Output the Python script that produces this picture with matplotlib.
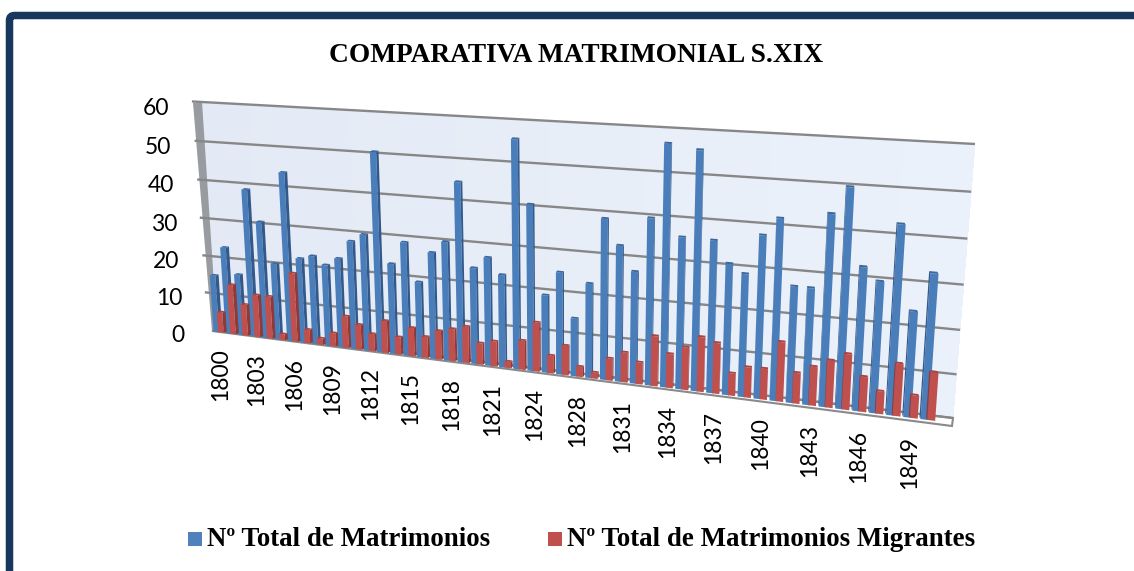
import numpy as np
import matplotlib
matplotlib.use("Agg")
import matplotlib.pyplot as plt
from matplotlib.patches import Polygon, Rectangle, FancyBboxPatch
from matplotlib.transforms import Transform
from matplotlib.colors import LinearSegmentedColormap

# ---------- data ----------
years = list(range(1800, 1825)) + list(range(1826, 1851))
total = [15.2, 22.9, 16.1, 38.5, 30.5, 20.0, 43.6, 22.0, 23.0, 21.0,
         23.0, 27.7, 29.7, 50.4, 23.0, 28.7, 19.1, 26.8, 29.8, 44.6,
         24.0, 26.9, 23.0, 55.7, 40.6, 19.1, 25.0, 14.2, 23.0, 38.7,
         32.7, 26.9, 39.7, 56.9, 35.9, 55.9, 35.8, 30.8, 28.8, 37.9,
         42.0, 27.0, 27.0, 43.9, 50.0, 32.8, 29.9, 42.8, 24.0, 32.8]
migrantes = [5.5, 13.2, 8.3, 11.2, 11.2, 1.6, 18.0, 3.6, 1.7, 3.5,
             8.3, 6.5, 4.5, 8.3, 4.5, 7.3, 5.4, 7.3, 8.2, 9.2,
             5.4, 6.3, 1.6, 7.3, 12.2, 4.4, 7.3, 2.5, 1.5, 5.4,
             7.3, 5.3, 12.1, 8.2, 10.2, 13.1, 12.1, 5.3, 7.2, 7.3,
             14.0, 7.2, 9.1, 11.0, 12.9, 8.1, 5.2, 12.0, 5.2, 10.9]
y_ticks = [0, 10, 20, 30, 40, 50, 60]
tick_labels = [str(y) for y in years[::3]]
title = "COMPARATIVA MATRIMONIAL S.XIX"
names = ["Nº Total de Matrimonios", "Nº Total de Matrimonios Migrantes"]

N = len(years)
UMAX, VMAX = float(N), 60.0


class Perspective(Transform):
    """Projective map from (category, value) onto a quadrilateral."""
    input_dims = output_dims = 2
    is_separable = False
    has_inverse = False

    def __init__(self, bl, br, tr, tl):
        super().__init__()
        src = [(0, 0), (UMAX, 0), (UMAX, VMAX), (0, VMAX)]
        A, b = [], []
        for (u, v), (x, y) in zip(src, [bl, br, tr, tl]):
            A.append([u, v, 1, 0, 0, 0, -u * x, -v * x]); b.append(x)
            A.append([0, 0, 0, u, v, 1, -u * y, -v * y]); b.append(y)
        self.m = np.append(np.linalg.solve(np.array(A, float), np.array(b, float)), 1).reshape(3, 3)

    def transform_non_affine(self, values):
        pts = np.ma.getdata(values).astype(float)
        p = np.column_stack([pts, np.ones(len(pts))]) @ self.m.T
        return p[:, :2] / p[:, 2:]


fig = plt.figure(figsize=(11.34, 5.71), dpi=100, facecolor="white")
ax = fig.add_axes([0, 0, 1, 1])
ax.set_xlim(0, 1134)
ax.set_ylim(571, 0)
ax.axis("off")
ax.set_autoscale_on(False)

wall = Perspective((217, 330), (953, 418), (975, 144), (202, 102)) + ax.transData
bars = Perspective((213, 331.5), (936, 421), (955, 147), (198, 102)) + ax.transData

# frame
ax.add_patch(FancyBboxPatch((9.5, 15.5), 1300, 700, boxstyle="round,pad=0,rounding_size=5",
                            fc="white", ec="#17375E", lw=5.4, zorder=0))

# back wall
cm = LinearSegmentedColormap.from_list("w", ["#E3EAF5", "#EBF1FA"])
uu, vv = np.meshgrid(np.linspace(0, UMAX, 41), [0, VMAX])
ax.pcolormesh(uu, vv, np.linspace(0, 1, 40).reshape(1, -1), cmap=cm, transform=wall,
              shading="flat", antialiased=False, zorder=1)

# side wall and floor
ax.add_patch(Polygon([(193, 103), (202, 102), (217, 330), (212, 331)], fc="#989B9F", ec="none", zorder=1.5))
ax.add_patch(Polygon([(212, 331), (217, 330), (953, 418), (952, 426)], fc="white", ec="#8A8A8A", lw=1.5, zorder=1.6))

# gridlines
for v in y_ticks:
    ax.plot([-0.8 if v else 0, UMAX], [v, v], color="#878787", lw=1.7, transform=wall,
            solid_capstyle="butt", zorder=2)


def draw_series(values, offset, front_w, front, side, cap, z):
    n = np.arange(N)
    depth = 0.27 - n * 0.007
    dv = 0.45
    left = n + offset + np.maximum(-depth, 0)
    ax.bar(left, values, front_w, align="edge", color=front, linewidth=0, transform=bars, zorder=z)
    for i, h in enumerate(values):
        d = depth[i]
        edge = left[i] + front_w if d > 0 else left[i]
        ax.add_patch(Polygon([(edge, 0), (edge, h), (edge + d, h + dv), (edge + d, dv)],
                             fc=side, ec="none", transform=bars, zorder=z))
        ax.add_patch(Polygon([(left[i], h), (left[i] + front_w, h),
                              (left[i] + front_w + d, h + dv), (left[i] + d, h + dv)],
                             fc=cap, ec="none", transform=bars, zorder=z))


draw_series(total, 0.04, 0.46, "#4A7EBB", "#33598A", "#3C689E", 3)
draw_series(migrantes, 0.42, 0.46, "#C0504D", "#8E3A38", "#A94441", 4)

# axis labels
tick_font = dict(family="Lato", size=16.5, color="black", zorder=6)
for v in y_ticks:
    ax.text(-2.4, v - 2.0, str(v), ha="right", va="center", transform=bars, **tick_font)
for i, lab in zip(range(0, N, 3), tick_labels):
    ax.text(i + 0.55, -4.3, lab, ha="center", va="top", rotation=90, transform=bars, **tick_font)

# title and legend
serif = dict(family="Liberation Serif", weight="bold", color="black", zorder=6)
ax.text(576.5, 55, title, ha="center", va="center", size=19.7, **serif)
for x0, tx, name, col in [(188, 207, names[0], "#4F81BD"), (548, 567, names[1], "#C0504D")]:
    ax.add_patch(Rectangle((x0, 532), 14, 14, fc=col, ec="none", zorder=6))
    ax.text(tx, 540, name, ha="left", va="center", size=19.4, **serif)

fig.savefig("out.png", dpi=100)
